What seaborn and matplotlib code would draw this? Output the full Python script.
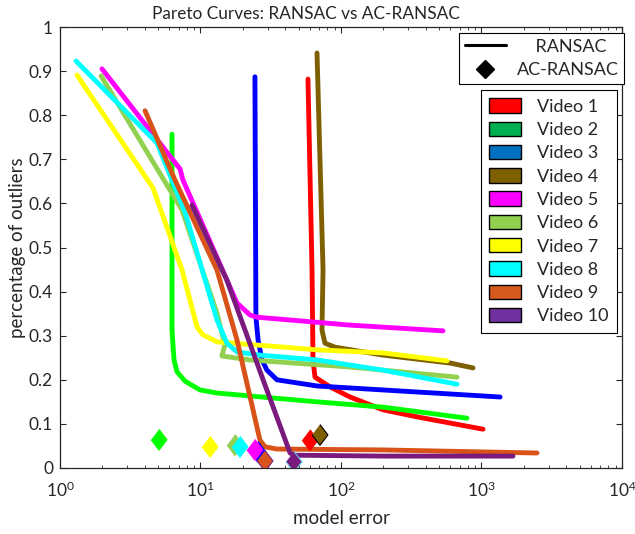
import numpy as np
import pandas as pd
import seaborn as sns
import matplotlib.pyplot as plt
from matplotlib.lines import Line2D
from matplotlib.patches import Patch

# Pareto curves (model error, percentage of outliers)
videos = ['Video 1', 'Video 2', 'Video 3', 'Video 4', 'Video 5',
          'Video 6', 'Video 7', 'Video 8', 'Video 9', 'Video 10']

v1_err = [58.2, 62.2, 63.2, 65.3, 83.5, 115.9, 199, 347, 1025]
v1_out = [0.882, 0.449, 0.245, 0.206, 0.184, 0.161, 0.132, 0.116, 0.088]
v2_err = [6.27, 6.27, 6.48, 6.81, 7.76, 9.92, 13.1, 67.5, 199, 788]
v2_out = [0.757, 0.313, 0.245, 0.218, 0.197, 0.177, 0.170, 0.150, 0.138, 0.113]
v3_err = [24.4, 24.8, 25.7, 27.4, 29.7, 35.0, 67.5, 199, 1355]
v3_out = [0.887, 0.342, 0.290, 0.245, 0.222, 0.200, 0.186, 0.177, 0.161]
v4_err = [67.5, 74.5, 73.2, 76.9, 90.6, 199, 597, 870]
v4_out = [0.941, 0.449, 0.313, 0.283, 0.274, 0.256, 0.238, 0.227]
v5_err = [1.99, 7.15, 7.5, 18.2, 22.5, 25.2, 116, 532]
v5_out = [0.905, 0.678, 0.653, 0.374, 0.347, 0.342, 0.324, 0.311]
v6_err = [1.96, 7.39, 13.1, 14.9, 14.2, 22.5, 116, 670]
v6_out = [0.889, 0.585, 0.351, 0.279, 0.254, 0.245, 0.229, 0.206]
v7_err = [1.32, 4.59, 7.39, 9.44, 10.4, 13.1, 67.5, 199, 568]
v7_out = [0.891, 0.635, 0.449, 0.320, 0.302, 0.286, 0.268, 0.261, 0.243]
v8_err = [1.30, 4.90, 7.76, 13.1, 15.4, 18.2, 26.5, 67.5, 199, 670]
v8_out = [0.923, 0.737, 0.580, 0.336, 0.283, 0.263, 0.256, 0.245, 0.222, 0.190]
v9_err = [4.03, 6.58, 13.1, 18.2, 26.5, 28.8, 35.0, 199, 2483]
v9_out = [0.810, 0.653, 0.449, 0.290, 0.063, 0.048, 0.043, 0.041, 0.034]
v10_err = [8.70, 15.4, 27.9, 43.4, 47.1, 199, 1675]
v10_out = [0.596, 0.426, 0.200, 0.034, 0.029, 0.027, 0.027]

# AC-RANSAC results (one point per video)
ac_err = [60.2, 5.07, 25.7, 70.9, 24.4, 17.6, 11.7, 19.1, 28.8, 46.3]
ac_out = [0.063, 0.064, 0.036, 0.075, 0.041, 0.052, 0.048, 0.048, 0.016, 0.014]

line_colors = ['#FF0000', '#00FF00', '#0000FF', '#7F6000', '#FF00FF',
               '#92D050', '#FFFF00', '#00FFFF', '#D95319', '#7A1A7C']
legend_colors = ['#FF0000', '#00B050', '#0070C0', '#7F6000', '#FF00FF',
                 '#92D050', '#FFFF00', '#00FFFF', '#D55A1E', '#7030A0']
ac_edges = ['#FF0000', '#00FF00', '#0000FF', '#000000', '#FF00FF',
            '#92D050', '#FFFF00', '#00FFFF', '#7E1E80', '#5BC8E8']

errs = [v1_err, v2_err, v3_err, v4_err, v5_err, v6_err, v7_err, v8_err, v9_err, v10_err]
outs = [v1_out, v2_out, v3_out, v4_out, v5_out, v6_out, v7_out, v8_out, v9_out, v10_out]

curves = pd.concat([pd.DataFrame({'video': v, 'err': e, 'out': o})
                    for v, e, o in zip(videos, errs, outs)], ignore_index=True)
ac = pd.DataFrame({'video': videos, 'err': ac_err, 'out': ac_out})

sns.set_style('ticks')
plt.rcParams['font.family'] = ['Lato', 'DejaVu Sans']
plt.rcParams['mathtext.default'] = 'regular'
plt.rcParams['xtick.direction'] = 'in'
plt.rcParams['ytick.direction'] = 'in'

fig = plt.figure(figsize=(6.35, 5.34), dpi=100)
ax = fig.add_axes([60 / 635, 1 - 468 / 534, 562 / 635, 441 / 534])

pal = dict(zip(videos, line_colors))
sns.lineplot(data=curves, x='err', y='out', hue='video', estimator=None,
             sort=False, palette=pal, linewidth=3.5, legend=False, ax=ax)

diamond = [(0, 1), (0.76, 0), (0, -1), (-0.76, 0)]
sns.scatterplot(data=ac, x='err', y='out', hue='video', palette=pal, marker=diamond,
                s=225, linewidth=0.8, legend=False, ax=ax, zorder=5)
ax.collections[-1].set_edgecolors(ac_edges)

ax.set_xscale('log')
ax.set_xlim(1, 1e4)
ax.set_ylim(0, 1)
ax.set_yticks(np.arange(0, 1.01, 0.1))
ax.set_yticklabels(['0', '0.1', '0.2', '0.3', '0.4', '0.5', '0.6', '0.7', '0.8', '0.9', '1'])
ax.tick_params(which='both', top=True, right=True, labelsize=12.5, color='#262626')
ax.tick_params(axis='y', pad=5)
ax.tick_params(axis='x', pad=9)
ax.tick_params(which='major', length=4)
ax.tick_params(which='minor', length=2.5)
for s in ax.spines.values():
    s.set_linewidth(0.9)
    s.set_color('#262626')

ax.set_title('Pareto Curves: RANSAC vs AC-RANSAC', fontsize=12.4, pad=6, x=0.438)
ax.set_xlabel('model error', fontsize=13.5, labelpad=7)
ax.set_ylabel('percentage of outliers', fontsize=13.5, labelpad=2)

style_handles = [Line2D([], [], color='black', linewidth=2.2),
                 Line2D([], [], color='black', marker='D', markersize=9, linestyle='none')]
leg1 = ax.legend(style_handles, ['    RANSAC', 'AC-RANSAC'], loc='upper right',
                 bbox_to_anchor=(1.004, 0.986), borderaxespad=0, fontsize=13,
                 fancybox=False, framealpha=1, edgecolor='black', handlelength=2.3,
                 handletextpad=0.6, labelspacing=0.42, borderpad=0.3)
leg1.get_frame().set_linewidth(0.8)
ax.add_artist(leg1)

color_handles = [Patch(facecolor=c, edgecolor='black', linewidth=1) for c in legend_colors]
leg2 = ax.legend(color_handles, videos, loc='upper right', bbox_to_anchor=(0.991, 0.857),
                 borderaxespad=0, fontsize=13, fancybox=False, framealpha=1,
                 edgecolor='black', handlelength=1.75, handleheight=0.85,
                 handletextpad=0.9, labelspacing=0.38, borderpad=0.45)
leg2.get_frame().set_linewidth(0.8)

fig.savefig('out.png', dpi=100)
